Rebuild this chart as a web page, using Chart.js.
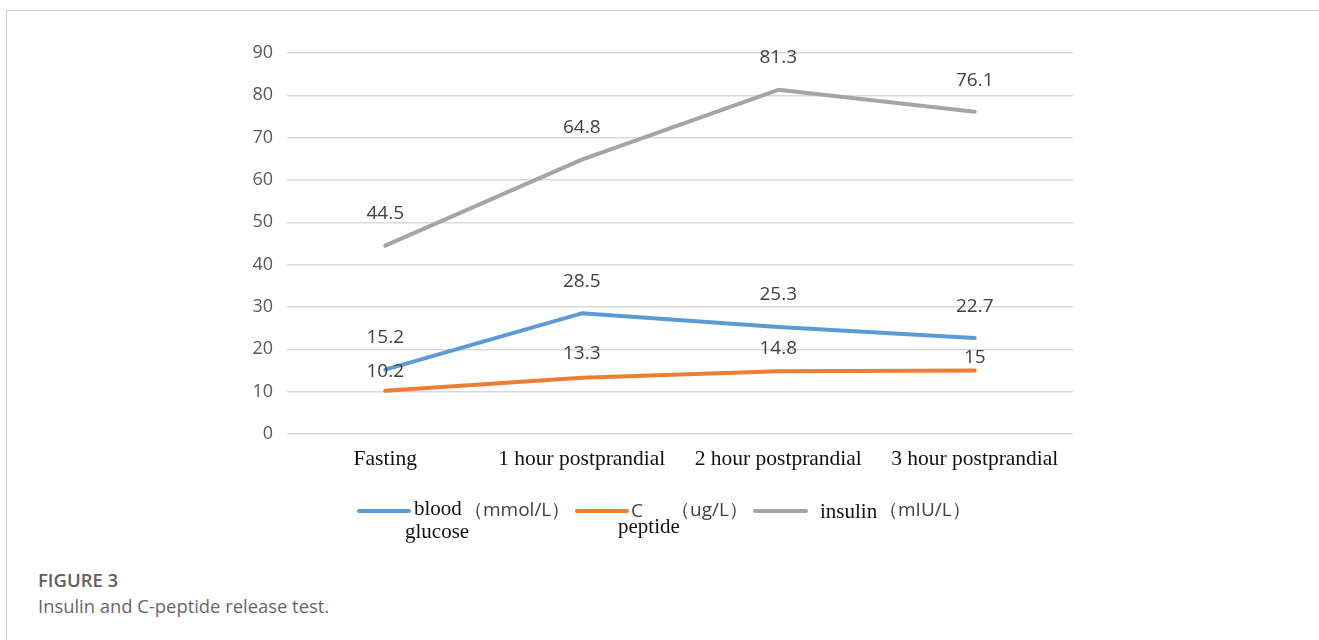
<!DOCTYPE html>
<html>
<head>
<meta charset="utf-8">
<script src="https://cdn.jsdelivr.net/npm/chart.js@4.4.1/dist/chart.umd.min.js"></script>
<style>
  html, body { margin: 0; padding: 0; background: #fff; }
  body { width: 1319px; height: 640px; position: relative; overflow: hidden; }
  #frame { position: absolute; left: 6px; top: 10px; width: 1330px; height: 700px;
           border-left: 1px solid #cfcfcf; border-top: 1px solid #cfcfcf; }
  #wrap { position: absolute; left: 0; top: 0; width: 1319px; height: 560px; }
  #cap1 { position: absolute; left: 38px; top: 567px; font-family: "Open Sans", "Noto Sans", sans-serif;
          font-size: 18.5px; font-weight: 600; color: #5f5f5f; line-height: 26px; }
  #cap2 { position: absolute; left: 38px; top: 593px; font-family: "Open Sans", "Noto Sans", sans-serif;
          font-size: 18.4px; color: #666; line-height: 26px; }
</style>
</head>
<body>
<div id="frame"></div>
<div id="wrap"><canvas id="c"></canvas></div>
<div id="cap1">FIGURE 3</div>
<div id="cap2">Insulin and C-peptide release test.</div>
<script>
const categories = ["Fasting", "1 hour postprandial", "2 hour postprandial", "3 hour postprandial"];
const bloodGlucose = [15.2, 28.5, 25.3, 22.7];
const cPeptide = [10.2, 13.3, 14.8, 15];
const insulin = [44.5, 64.8, 81.3, 76.1];
const yTicks = [0, 10, 20, 30, 40, 50, 60, 70, 80, 90];

const seriesNames = ["blood glucose（mmol/L）", "C peptide（ug/L）", "insulin（mIU/L）"];
const seriesColors = ["#5B9BD5", "#ED7D31", "#A5A5A5"];
// label offsets above the point (px), styling only
const labelLift = [[32, 32, 32, 31], [19, 24, 23, 13], [32, 32, 32, 31]];

const sansFont = '"Open Sans", "Noto Sans", sans-serif';
const serifFont = '"Liberation Serif", "DejaVu Serif", serif';

const dataLabels = {
  id: 'dataLabels',
  afterDatasetsDraw(chart) {
    const ctx = chart.ctx;
    ctx.save();
    ctx.font = '19px ' + sansFont;
    ctx.fillStyle = '#404040';
    ctx.textAlign = 'center';
    ctx.textBaseline = 'middle';
    chart.data.datasets.forEach((ds, di) => {
      const meta = chart.getDatasetMeta(di);
      meta.data.forEach((pt, i) => {
        ctx.fillText(String(ds.data[i]), pt.x, pt.y - labelLift[di][i]);
      });
    });
    ctx.restore();
  }
};

const customLegend = {
  id: 'customLegend',
  afterDraw(chart) {
    const ctx = chart.ctx;
    const y = 511;
    ctx.save();
    ctx.lineCap = 'round';
    ctx.lineWidth = 4;
    const drawLine = (x1, x2, color) => {
      ctx.strokeStyle = color;
      ctx.beginPath(); ctx.moveTo(x1, y); ctx.lineTo(x2, y); ctx.stroke();
    };
    const txt = (s, x, yy, font, color) => {
      ctx.font = font; ctx.fillStyle = color; ctx.textAlign = 'left'; ctx.textBaseline = 'middle';
      ctx.fillText(s, x, yy);
    };
    const serif = '21px ' + serifFont;
    const sans = '19px ' + sansFont;
    const ds = chart.data.datasets;
    // blood glucose
    drawLine(359, 409, ds[0].borderColor);
    txt('blood', 414, 509, serif, '#111');
    txt('glucose', 405, 532, serif, '#111');
    txt('（mmol/L）', 464, 511, sans, '#404040');
    // C peptide
    drawLine(577, 627, ds[1].borderColor);
    txt('C', 631, 512, sans, '#404040');
    txt('peptide', 618, 527, serif, '#111');
    txt('（ug/L）', 671, 511, sans, '#404040');
    // insulin
    drawLine(755, 806, ds[2].borderColor);
    txt('insulin', 820, 512, serif, '#111');
    txt('（mIU/L）', 879, 511, sans, '#404040');
    ctx.restore();
  }
};

const ctx = document.getElementById('c');
new Chart(ctx, {
  type: 'line',
  data: {
    labels: categories,
    datasets: [
      { label: seriesNames[0], data: bloodGlucose, borderColor: seriesColors[0], backgroundColor: seriesColors[0] },
      { label: seriesNames[1], data: cPeptide, borderColor: seriesColors[1], backgroundColor: seriesColors[1] },
      { label: seriesNames[2], data: insulin, borderColor: seriesColors[2], backgroundColor: seriesColors[2] }
    ].map(d => Object.assign(d, { borderWidth: 4, pointRadius: 0, tension: 0, fill: false, borderCapStyle: 'round', borderJoinStyle: 'round' }))
  },
  options: {
    responsive: true,
    maintainAspectRatio: false,
    animation: false,
    events: [],
    layout: { padding: { left: 0, right: 246, top: 53, bottom: 0 } },
    plugins: { legend: { display: false }, tooltip: { enabled: false } },
    scales: {
      x: {
        offset: true,
        grid: { display: false, drawTicks: false },
        border: { display: false },
        ticks: { color: '#111', font: { family: serifFont, size: 21.5 }, padding: 12, maxRotation: 0, autoSkip: false },
        afterFit(scale) { scale.height = 560 - 434; }
      },
      y: {
        min: 0, max: 90,
        afterBuildTicks(scale) { scale.ticks = yTicks.map(v => ({ value: v })); },
        grid: { color: '#d9d9d9', lineWidth: 1.5, drawTicks: false },
        border: { display: false },
        ticks: { color: '#595959', font: { family: sansFont, size: 18 }, padding: 14 },
        afterFit(scale) { scale.width = 287; }
      }
    }
  },
  plugins: [dataLabels, customLegend]
});
</script>
</body>
</html>
